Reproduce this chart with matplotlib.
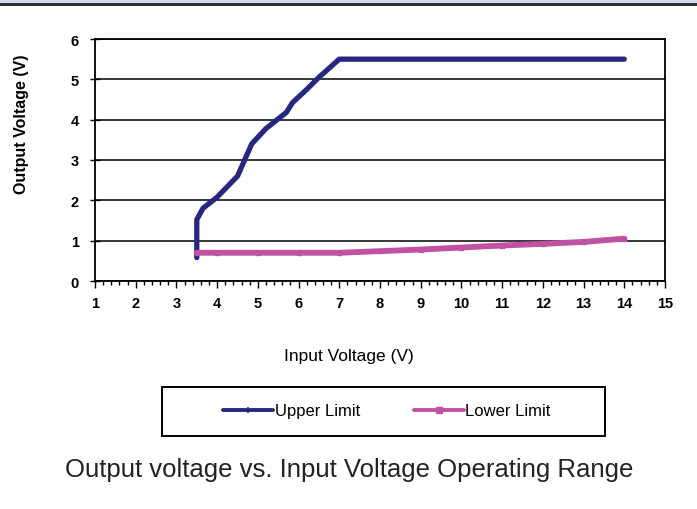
import matplotlib.pyplot as plt
from matplotlib.patches import Rectangle
from matplotlib.ticker import MultipleLocator

# Datos
upper_x = [3.5, 3.5, 3.65, 4.0, 4.5, 4.85, 5.2, 5.7, 5.85, 6.2, 6.5, 7.0, 8, 9, 10, 11, 12, 13, 14]
upper_y = [0.58, 1.52, 1.8, 2.08, 2.6, 3.4, 3.78, 4.18, 4.42, 4.75, 5.05, 5.5, 5.5, 5.5, 5.5, 5.5, 5.5, 5.5, 5.5]
lower_x = [3.5, 4, 5, 6, 7, 8, 9, 10, 11, 12, 13, 14]
lower_y = [0.7, 0.7, 0.7, 0.7, 0.7, 0.74, 0.78, 0.83, 0.88, 0.92, 0.97, 1.05]

plt.rcParams['font.family'] = ['Liberation Sans', 'DejaVu Sans']

fig = plt.figure(figsize=(6.97, 5.10), dpi=100)

# banda superior
fig.patches.append(Rectangle((0, 1 - 4 / 510), 1, 4 / 510, transform=fig.transFigure,
                             facecolor='#d6dbec', edgecolor='none'))
fig.patches.append(Rectangle((0, 1 - 7 / 510), 1, 3 / 510, transform=fig.transFigure,
                             facecolor='#333333', edgecolor='none'))

ax = fig.add_axes([95 / 697, 1 - 282 / 510, 570 / 697, 242 / 510])

ax.plot(upper_x, upper_y, color='#272780', lw=3.8, marker='|', ms=3, mew=1.2,
        solid_joinstyle='round', solid_capstyle='round', label='Upper Limit')
ax.plot(lower_x, lower_y, color='#c152a3', lw=4.2, marker='s', ms=3,
        solid_joinstyle='round', solid_capstyle='round', label='Lower Limit')

ax.set_xlim(1, 15)
ax.set_ylim(0, 6)
ax.xaxis.set_major_locator(MultipleLocator(1))
ax.xaxis.set_minor_locator(MultipleLocator(0.2))
ax.yaxis.set_major_locator(MultipleLocator(1))
ax.grid(axis='y', color='black', lw=1.1)
ax.tick_params(axis='x', which='major', direction='out', length=5, width=1, labelsize=10.5, pad=6)
ax.tick_params(axis='x', which='minor', direction='out', length=3, width=1)
ax.tick_params(axis='y', direction='inout', length=7, width=1, labelsize=10.5, pad=8)
for lbl in ax.get_xticklabels() + ax.get_yticklabels():
    lbl.set_fontweight('bold')
for s in ax.spines.values():
    s.set_linewidth(1.3)

fig.text(22 / 697, 1 - 124 / 510, 'Output Voltage (V)', rotation=90, ha='center', va='center',
         fontsize=11.5, fontweight='bold')
fig.text(349 / 697, 1 - 357 / 510, 'Input Voltage (V)', ha='center', va='center', fontsize=12.5)

# caja de la leyenda
fig.patches.append(Rectangle((162 / 697, 1 - 437 / 510), 443 / 697, 49 / 510,
                             transform=fig.transFigure, facecolor='white',
                             edgecolor='black', lw=1.4, zorder=0))
leg = fig.legend(loc='center', bbox_to_anchor=(387 / 697, 1 - 412 / 510),
                 bbox_transform=fig.transFigure, ncol=2, frameon=False,
                 fontsize=12, handlelength=3.0, handletextpad=0.1,
                 columnspacing=3.2, borderaxespad=0)
for h in leg.get_lines():
    h.set_linewidth(2.8)
    h.set_markersize(5)

fig.text(349 / 697, 1 - 470 / 510, 'Output voltage vs. Input Voltage Operating Range',
         ha='center', va='center', fontsize=18.5, color='#222222')

plt.savefig('out.png', dpi=100)
plt.close()
